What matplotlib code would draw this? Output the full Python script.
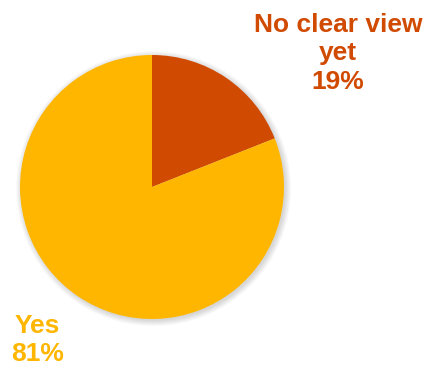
import matplotlib
matplotlib.use("Agg")
import matplotlib.pyplot as plt
from matplotlib.patches import Circle

labels = ["No clear view\nyet", "Yes"]
shares = [19, 81]
colors = ["#D04A02", "#FFB600"]

plt.rcParams["font.family"] = ["Liberation Sans", "DejaVu Sans"]

fig = plt.figure(figsize=(4.23, 3.67), dpi=100)
W, H = 423, 367
cx, cy, r = 152, 187, 132
ax = fig.add_axes([(cx - r) / W, (H - cy - r) / H, 2 * r / W, 2 * r / H])

# soft drop shadow under the pie
for i in range(8):
    ax.add_patch(Circle((0.012, -0.012), 1.0 + 0.006 * i, color="black",
                        alpha=0.018, lw=0, zorder=0, clip_on=False))

wedges, _ = ax.pie(shares, colors=colors, startangle=90, counterclock=False,
                   radius=1.0, center=(0, 0), frame=True,
                   wedgeprops=dict(linewidth=0))
for w in wedges:
    w.set_zorder(2)
ax.set_xlim(-1, 1)
ax.set_ylim(-1, 1)
ax.set_aspect("equal")
ax.axis("off")

fig.text(338 / W, 1 - 89 / H, f"{labels[0]}\n{shares[0]}%", color=colors[0],
         fontsize=19, fontweight="bold", ha="center", va="baseline",
         multialignment="center", linespacing=1.24)
fig.text(37.5 / W, 1 - 361 / H, f"{labels[1]}\n{shares[1]}%", color=colors[1],
         fontsize=19, fontweight="bold", ha="center", va="baseline",
         multialignment="center", linespacing=1.22)

fig.savefig("out.png", dpi=100, facecolor="white")
